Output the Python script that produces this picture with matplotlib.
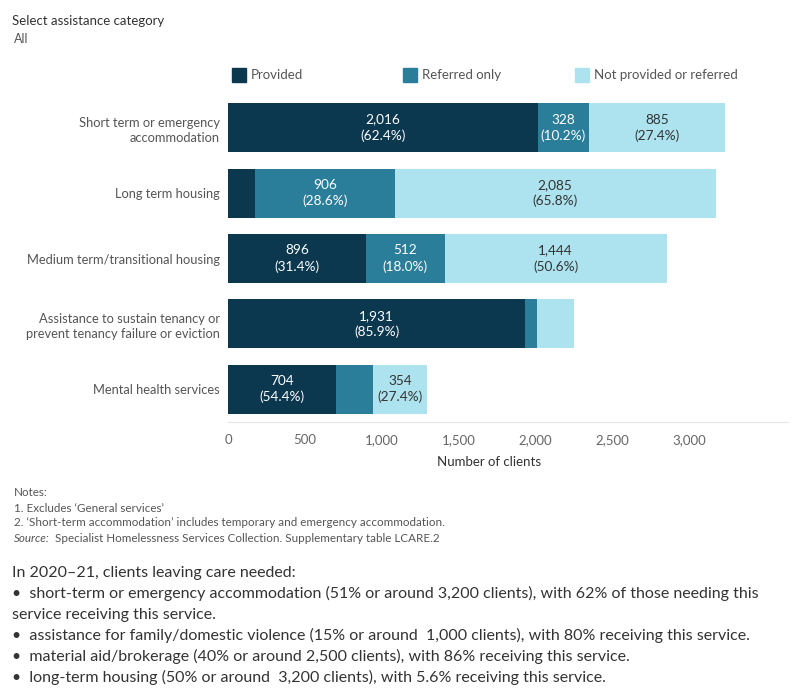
import numpy as np
import matplotlib
matplotlib.use('Agg')
import matplotlib.pyplot as plt
from matplotlib.patches import Rectangle
from matplotlib.transforms import ScaledTranslation

plt.rcParams['font.family'] = ['Lato', 'DejaVu Sans']

# data
categories = ['Short term or emergency\naccommodation', 'Long term housing',
              'Medium term/transitional housing',
              'Assistance to sustain tenancy or\nprevent tenancy failure or eviction',
              'Mental health services']
provided = [2016, 178, 896, 1931, 704]
referred = [328, 906, 512, 79, 236]
not_provided = [885, 2085, 1444, 238, 354]
series_names = ['Provided', 'Referred only', 'Not provided or referred']
colors = ['#0b374f', '#2a7e99', '#ade3ee']
text_colors = ['white', 'white', '#333333']
xticks = [0, 500, 1000, 1500, 2000, 2500, 3000]

W, H = 800, 700
fig = plt.figure(figsize=(8, 7), dpi=100)


def fx(px):
    return px / W


def fy(py):
    return 1 - py / H


ax = fig.add_axes([fx(228), fy(422), fx(788) - fx(228), fy(95) - fy(422)])

series = [provided, referred, not_provided]
totals = np.sum(series, axis=0)
y = np.arange(len(categories))
left = np.zeros(len(categories))
for vals, col, tcol in zip(series, colors, text_colors):
    vals = np.array(vals, dtype=float)
    ax.barh(y, vals, left=left, height=0.75, color=col, edgecolor='none')
    for i, v in enumerate(vals):
        if v > 300:
            pct = v / totals[i] * 100
            ax.text(left[i] + v / 2, y[i], f'{int(v):,}\n({pct:.1f}%)',
                    ha='center', va='center', color=tcol, fontsize=9.8,
                    linespacing=1.35)
    left += vals

ax.set_xlim(0, 3640)
ax.set_ylim(4.5, -0.5)
ax.set_yticks(y)
ax.set_yticklabels(categories, fontsize=9.3, color='#555555', linespacing=1.35)
ax.set_xticks(xticks)
ax.set_xticklabels([f'{t:,}' for t in xticks], fontsize=9.5, color='#666666')
for lab in ax.get_xticklabels():
    lab.set_transform(lab.get_transform() + ScaledTranslation(1 / 100, 0, fig.dpi_scale_trans))
ax.tick_params(axis='both', length=0)
ax.tick_params(axis='y', pad=6)
ax.tick_params(axis='x', pad=9)
for s in ['top', 'right', 'left']:
    ax.spines[s].set_visible(False)
ax.spines['bottom'].set_color('#e6e6e6')
ax.set_xlabel('Number of clients', fontsize=9.5, color='#333333')
ax.xaxis.set_label_coords(0.466, -0.105)

# filter header
fig.text(fx(12), fy(21), 'Select assistance category', fontsize=9.5, color='#333333',
         va='center', ha='left')
fig.text(fx(14), fy(39), 'All', fontsize=9, color='#555555', va='center', ha='left')

# legend
legend_x = [232, 403, 575]
for lx, name, col in zip(legend_x, series_names, colors):
    fig.add_artist(Rectangle((fx(lx), fy(82)), 14 / W, 14 / H, color=col,
                             transform=fig.transFigure))
    fig.text(fx(lx + 19), fy(75), name, fontsize=9.5, color='#555555',
             va='center', ha='left')

# notes
notes = ['Notes:', '1. Excludes \u2018General services\u2019',
         '2. \u2018Short-term accommodation\u2019 includes temporary and emergency accommodation.']
for i, n in enumerate(notes):
    fig.text(fx(14), fy(493 + i * 15), n, fontsize=8.4, color='#555555', va='center')
fig.text(fx(14), fy(538), 'Source:', fontsize=8.4, color='#555555', va='center', style='italic')
fig.text(fx(55), fy(538), 'Specialist Homelessness Services Collection. Supplementary table LCARE.2',
         fontsize=8.4, color='#555555', va='center')

# commentary
lines = ['In 2020\u201321, clients leaving care needed:',
         '\u2022  short-term or emergency accommodation (51% or around 3,200 clients), with 62% of those needing this',
         'service receiving this service.',
         '\u2022  assistance for family/domestic violence (15% or around  1,000 clients), with 80% receiving this service.',
         '\u2022  material aid/brokerage (40% or around 2,500 clients), with 86% receiving this service.',
         '\u2022  long-term housing (50% or around  3,200 clients), with 5.6% receiving this service.']
for i, t in enumerate(lines):
    fig.text(fx(12), fy(573 + i * 20.8), t, fontsize=11.5, color='#333333', va='center')

fig.savefig('out.png', dpi=100, facecolor='white')
